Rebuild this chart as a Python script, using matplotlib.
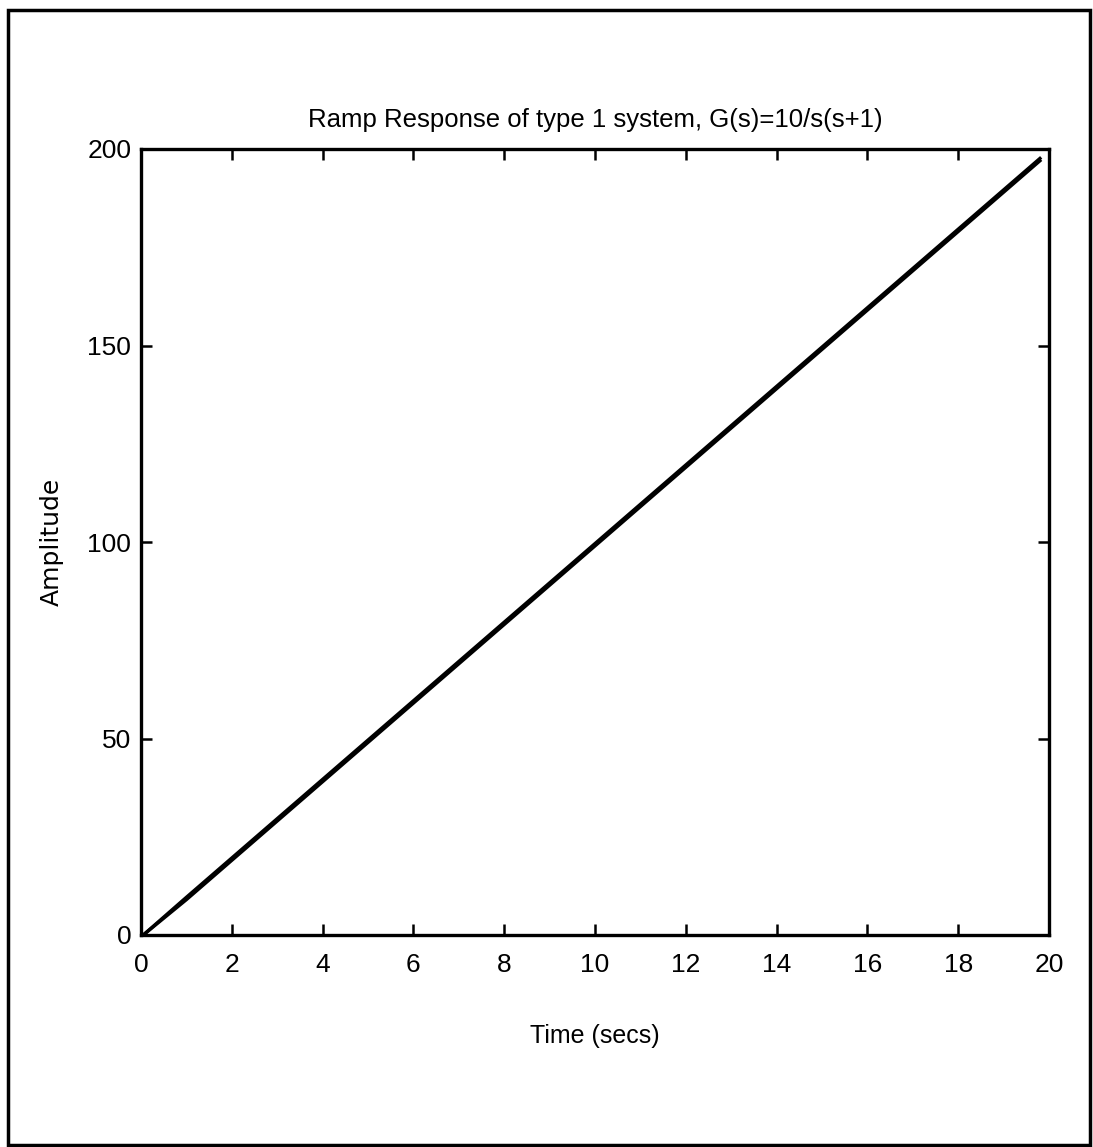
import numpy as np
import matplotlib
matplotlib.use("Agg")
import matplotlib.pyplot as plt
from matplotlib.patches import Rectangle

# ---- data ----
time_s = [0.05, 1, 2, 4, 6, 8, 10, 12, 14, 16, 18, 19.8]
ramp_in = [0.0, 9.6, 19.6, 39.6, 59.6, 79.6, 99.6, 119.6, 139.6, 159.6, 179.6, 197.6]
response = [0.0, 9.0, 19.0, 39.0, 59.0, 79.0, 99.0, 119.0, 139.0, 159.0, 179.0, 197.0]

x_ticks = [0, 2, 4, 6, 8, 10, 12, 14, 16, 18, 20]
y_ticks = [0, 50, 100, 150, 200]

plt.rcParams["font.family"] = ["Liberation Sans", "DejaVu Sans"]

W, H = 1093, 1147
fig = plt.figure(figsize=(W / 100, H / 100), dpi=100)

# outer frame around the whole page
fig.patches.append(Rectangle((8 / W, 1 - 1145 / H), (1090 - 8) / W, (1145 - 10) / H,
                             transform=fig.transFigure, fill=False,
                             edgecolor="black", linewidth=2.5))

# axes box: x 141..1049 px, y 149..935 px
ax = fig.add_axes([141 / W, 1 - 935 / H, (1049 - 141) / W, (935 - 149) / H])
ax.plot(time_s, ramp_in, color="black", linewidth=2.4)
ax.plot(time_s, response, color="black", linewidth=2.4)

ax.set_xlim(0, 20)
ax.set_ylim(0, 200)
ax.set_xticks(x_ticks)
ax.set_yticks(y_ticks)
ax.tick_params(direction="in", length=8, width=1.8, top=True, right=True,
               labelsize=19)
ax.tick_params(axis="x", pad=13)
ax.tick_params(axis="y", pad=7)
for s in ax.spines.values():
    s.set_linewidth(2.4)

ax.set_title("Ramp Response of type 1 system, G(s)=10/s(s+1)", fontsize=18.5, pad=16)
ax.set_xlabel("Time (secs)", fontsize=18)
ax.set_ylabel("Amplitude", fontsize=18, family="DejaVu Sans")
ax.xaxis.set_label_coords(0.5, (935 - 1024) / 786)
ax.yaxis.set_label_coords((64 - 141) / 908, 0.5)

fig.savefig("out.png", dpi=100)
